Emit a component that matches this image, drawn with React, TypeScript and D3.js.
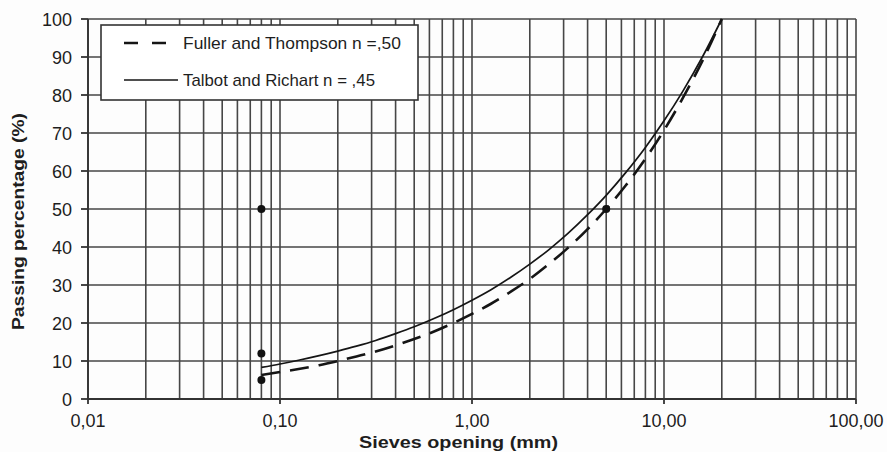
import React from "react";
import * as d3 from "d3";

// Sieve openings (mm) and passing percentages of the two ideal grading curves
const sieves = [0.08, 0.1, 0.125, 0.16, 0.2, 0.25, 0.315, 0.4, 0.5, 0.63, 0.8, 1, 1.25, 1.6, 2, 2.5, 3.15, 4, 5, 6.3, 8, 10, 12.5, 16, 20];
const fullerThompson = [6.3, 7.1, 7.9, 8.9, 10.0, 11.2, 12.5, 14.1, 15.8, 17.7, 20.0, 22.4, 25.0, 28.3, 31.6, 35.4, 39.7, 44.7, 50.0, 56.1, 63.2, 70.7, 79.1, 89.4, 100];
const talbotRichart = [8.3, 9.2, 10.2, 11.4, 12.6, 13.9, 15.4, 17.2, 19.0, 21.1, 23.5, 26.0, 28.7, 32.1, 35.5, 39.2, 43.5, 48.5, 53.6, 59.5, 66.2, 73.2, 80.9, 90.4, 100];

// Specification points
const markerSizes = [0.08, 0.08, 0.08, 5];
const markerPassing = [50, 12, 5, 50];

// Axis ticks
const xTicks = [0.01, 0.1, 1, 10, 100];
const xTickLabels = ["0,01", "0,10", "1,00", "10,00", "100,00"];
const yTicks = [0, 10, 20, 30, 40, 50, 60, 70, 80, 90, 100];

const seriesNames = ["Fuller and Thompson n =,50", "Talbot and Richart n = ,45"];

const W = 887;
const H = 452;
const plot = { left: 88, right: 856, top: 19, bottom: 399 };
const gridColor = "#464646";
const inkColor = "#1e1e1e";
const font = "'Liberation Sans', Arial, sans-serif";

export default function App() {
  const x = d3.scaleLog().domain([0.01, 100]).range([plot.left, plot.right]);
  const y = d3.scaleLinear().domain([0, 100]).range([plot.bottom, plot.top]);

  // Minor log grid: 1..9 of every decade
  const vGrid: number[] = [];
  for (let e = -2; e <= 1; e++) {
    for (let k = 1; k <= 9; k++) vGrid.push(k * Math.pow(10, e));
  }
  vGrid.push(100);

  const line = d3
    .line<number>()
    .x((_, i) => x(sieves[i]))
    .y((v) => y(v))
    .curve(d3.curveMonotoneX);

  return (
    <svg
      width={W}
      height={H}
      style={{ position: "absolute", left: 0, top: 0, background: "#fff" }}
      fontFamily={font}
    >
      <rect x={0} y={0} width={W} height={H} fill="#fdfdfd" />

      {/* grid */}
      <g stroke={gridColor} strokeWidth={1.6} fill="none">
        {vGrid.map((v, i) => (
          <line key={"v" + i} x1={x(v)} x2={x(v)} y1={plot.top} y2={plot.bottom} />
        ))}
        {yTicks.map((v) => (
          <line key={"h" + v} x1={plot.left} x2={plot.right} y1={y(v)} y2={y(v)} />
        ))}
      </g>

      {/* axis frame and tick marks */}
      <g stroke="#333" strokeWidth={1.8}>
        <line x1={plot.left} x2={plot.left} y1={plot.top} y2={plot.bottom} />
        <line x1={plot.left} x2={plot.right} y1={plot.bottom} y2={plot.bottom} />
        {yTicks.map((v) => (
          <line key={"yt" + v} x1={plot.left - 7} x2={plot.left} y1={y(v)} y2={y(v)} />
        ))}
        {xTicks.map((v) => (
          <line key={"xt" + v} x1={x(v)} x2={x(v)} y1={plot.bottom} y2={plot.bottom + 5} />
        ))}
      </g>

      {/* tick labels */}
      <g fill={inkColor} fontSize={18}>
        {yTicks.map((v) => (
          <text key={"yl" + v} x={plot.left - 16} y={y(v) + 6.5} textAnchor="end">
            {v}
          </text>
        ))}
        {xTicks.map((v, i) => (
          <text key={"xl" + v} x={x(v)} y={427} textAnchor="middle">
            {xTickLabels[i]}
          </text>
        ))}
      </g>

      {/* axis titles */}
      <text
        x={359}
        y={448}
        fontSize={17}
        fontWeight="bold"
        fill={inkColor}
        textLength={199}
        lengthAdjust="spacingAndGlyphs"
      >
        Sieves opening (mm)
      </text>
      <text
        transform={`translate(24, 330) rotate(-90)`}
        fontSize={17}
        fontWeight="bold"
        fill={inkColor}
        textLength={217}
        lengthAdjust="spacingAndGlyphs"
      >
        Passing percentage (%)
      </text>

      {/* grading curves */}
      <path
        d={line(fullerThompson) ?? ""}
        fill="none"
        stroke="#151515"
        strokeWidth={2.6}
        strokeDasharray="19,10"
      />
      <path d={line(talbotRichart) ?? ""} fill="none" stroke="#151515" strokeWidth={1.7} />

      {/* specification points */}
      <g fill="#111">
        {markerSizes.map((s, i) => (
          <circle key={"m" + i} cx={x(s)} cy={y(markerPassing[i])} r={4} />
        ))}
      </g>

      {/* legend */}
      <g>
        <rect x={101} y={25} width={317} height={75} fill="#fff" stroke="#333" strokeWidth={1.6} />
        <line x1={124} x2={173} y1={43} y2={43} stroke="#151515" strokeWidth={2.6} strokeDasharray="14,14" />
        <line x1={124} x2={178} y1={80} y2={80} stroke="#151515" strokeWidth={1.7} />
        <text x={183} y={49} fontSize={17} fill={inkColor} textLength={218} lengthAdjust="spacingAndGlyphs">
          {seriesNames[0]}
        </text>
        <text x={183} y={86} fontSize={17} fill={inkColor} textLength={192} lengthAdjust="spacingAndGlyphs">
          {seriesNames[1]}
        </text>
      </g>
    </svg>
  );
}
